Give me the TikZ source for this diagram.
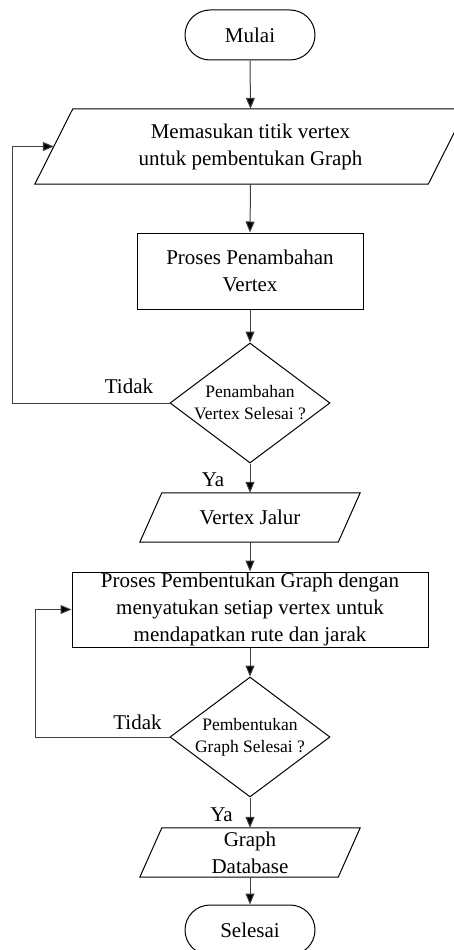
\documentclass[tikz,border=0pt]{standalone}
\usepackage{fontspec}
\setmainfont{Liberation Serif}
\usetikzlibrary{arrows.meta,shapes.geometric,calc}
\tikzset{
  base/.style={font=\fontsize{21}{27}\selectfont, align=center, inner sep=0pt},
  term/.style={base, draw, line width=1pt, rounded corners=25pt, minimum width=130pt, minimum height=50pt},
  procbox/.style={base, draw, line width=1pt, minimum height=75pt},
  io/.style={base, minimum height=75pt},
  ioline/.style={line width=1pt, line join=miter},
  dec/.style={draw, line width=1pt, diamond, inner sep=0pt, minimum width=160pt, minimum height=120pt, aspect=1.333},
  dlab/.style={font=\fontsize{17.5}{22}\selectfont, align=center, inner sep=0pt},
  lab/.style={font=\fontsize{21}{25}\selectfont, inner sep=0pt},
  arr/.style={line width=1pt, draw=black!75, -{Triangle[length=11pt,width=9pt,fill=black]}},
  conn/.style={line width=1pt, draw=black!75},
}
\begin{document}
\begin{tikzpicture}[x=1pt,y=-1pt]
\useasboundingbox (0,0) rectangle (453,950);

\node[term] (start) at (250,35) {Mulai};

\node[io, minimum width=393pt] (in1) at (250.5,146.5) {Memasukan titik vertex\\untuk pembentukan Graph};
\draw[ioline] ([xshift=19pt]in1.north west) -- ([xshift=19pt]in1.north east) -- ([xshift=-19pt]in1.south east) -- ([xshift=-19pt]in1.south west) -- cycle;

\node[procbox, minimum width=226pt, minimum height=76pt] (p1) at (250,271) {Proses Penambahan\\Vertex};

\node[dec, label={[dlab]center:{Penambahan\\Vertex Selesai ?}}] (d1) at (250,403) {};

\node[io, minimum width=198pt, minimum height=49pt] (in2) at (250,517.5) {Vertex Jalur};
\draw[ioline] ([xshift=11pt]in2.north west) -- ([xshift=11pt]in2.north east) -- ([xshift=-11pt]in2.south east) -- ([xshift=-11pt]in2.south west) -- cycle;

\node[procbox, minimum width=356pt] (p2) at (250,609.5) {Proses Pembentukan Graph dengan\\menyatukan setiap vertex untuk\\mendapatkan rute dan jarak};

\node[dec, label={[dlab]center:{Pembentukan\\Graph Selesai ?}}] (d2) at (250,737) {};

\node[io, minimum width=198pt, minimum height=49pt] (in3) at (250,852.5) {Graph\\Database};
\draw[ioline] ([xshift=11pt]in3.north west) -- ([xshift=11pt]in3.north east) -- ([xshift=-11pt]in3.south east) -- ([xshift=-11pt]in3.south west) -- cycle;

\node[term] (stop) at (250,930) {Selesai};

% labels
\node[lab] (tidak1) at (129,386) {Tidak};
\node[lab] (ya1) at (213,480) {Ya};
\node[lab] (tidak2) at (137.5,722) {Tidak};
\node[lab] (ya2) at (221.5,815) {Ya};

% connectors
\draw[arr] (start.south) -- (in1.north);
\draw[arr] (in1.south) -- (p1.north);
\draw[arr] (p1.south) -- (d1.north);
\draw[arr] (d1.south) -- (in2.north);
\draw[arr] (in2.south) -- (p2.north);
\draw[arr] (p2.south) -- (d2.north);
\draw[arr] (d2.south) -- (in3.north);
\draw[arr] (in3.south) -- (stop.north);

\draw[arr] (d1.west) -- ++(-157,0) |- (in1.west);
\draw[arr] (d2.west) -- ++(-134,0) |- (p2.west);
\end{tikzpicture}
\end{document}
